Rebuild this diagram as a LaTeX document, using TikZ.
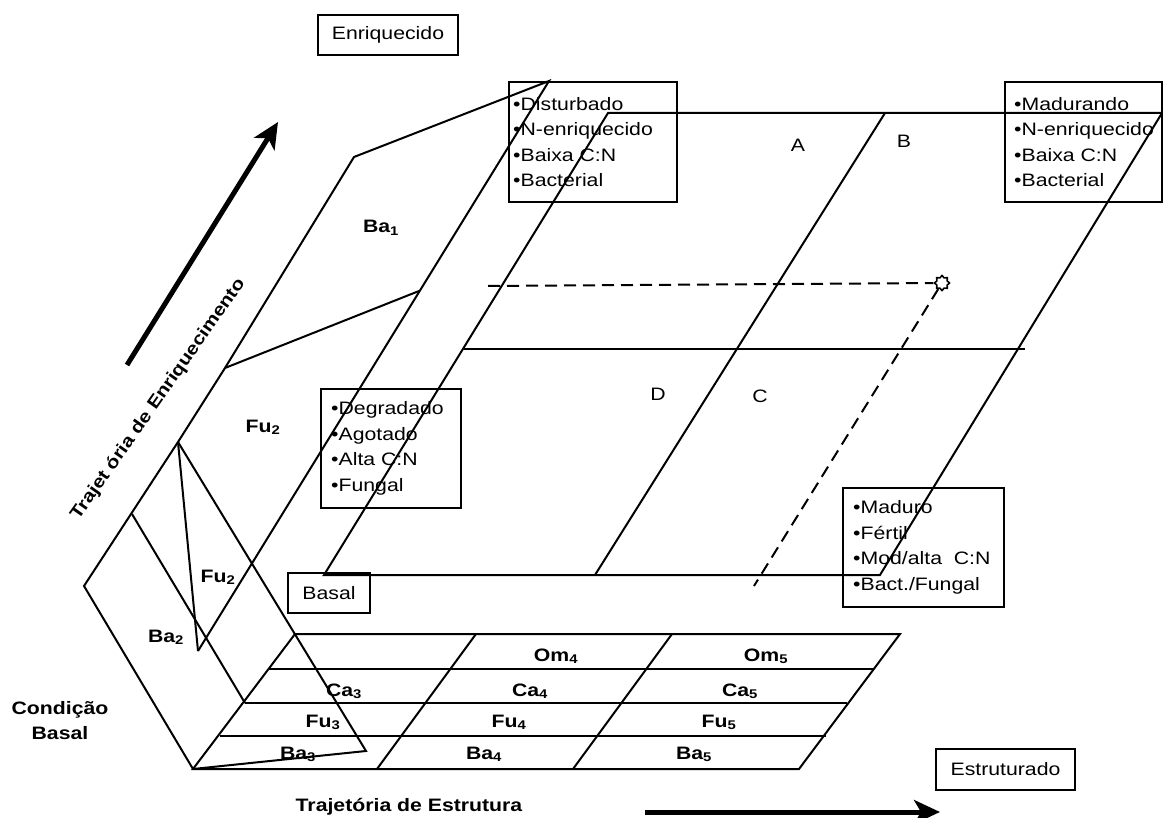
\documentclass[tikz,border=0pt]{standalone}
\usepackage{fontspec}
\setmainfont{Liberation Sans}[FakeStretch=1.18]
\usetikzlibrary{arrows.meta,shapes.geometric}
\begin{document}
\begin{tikzpicture}[x=1pt,y=-1pt,
  lnst/.style={line width=2pt, line join=miter},
  dshst/.style={line width=2pt, dash pattern=on 12pt off 7pt},
  boxfr/.style={draw, line width=2pt, inner sep=0pt},
  wordtxt/.style={font=\fontsize{18}{22}\selectfont},
  listtxt/.style={font=\fontsize{18}{25.5}\selectfont, align=left, inner sep=0pt, anchor=west},
  labtxt/.style={font=\bfseries\fontsize{18}{22}\selectfont, anchor=base, inner sep=0pt},
  lettxt/.style={font=\fontsize{18}{22}\selectfont, anchor=base, inner sep=0pt},
  bigarr/.style={line width=5pt, -{Stealth[length=26pt,width=24pt,inset=7pt]}},
]
\useasboundingbox (0,0) rectangle (1163,818);

% ---- coordinates of the left planes
\coordinate (p1) at (354,157);
\coordinate (p2) at (549,81);
\coordinate (p3) at (225,368);
\coordinate (p4) at (419,291);
\coordinate (apex) at (178,442);
\coordinate (p5) at (84,586);
\coordinate (p6) at (193,769);
\coordinate (p7) at (198,651);
\coordinate (p8) at (366,751);
\coordinate (p9) at (132,514);
\coordinate (p10) at (245,703);

% ---- main plane
\coordinate (m1) at (608,113);
\coordinate (m2) at (1162,113);
\coordinate (m3) at (880,575);
\coordinate (m4) at (324,575);
\coordinate (m5) at (885,113);
\coordinate (m6) at (595,575);
\coordinate (h1) at (464,349);
\coordinate (h2) at (1025,349);

% ---- grid
\coordinate (g1) at (295,634);
\coordinate (g2) at (900,634);
\coordinate (g3) at (799,769);
\coordinate (r1a) at (269,669);
\coordinate (r1b) at (873,669);
\coordinate (r2b) at (847,703);
\coordinate (r3a) at (220,736);
\coordinate (r3b) at (826,736);
\coordinate (d1a) at (476,634);
\coordinate (d1b) at (377,769);
\coordinate (d2a) at (672,634);
\coordinate (d2b) at (573,769);

% ---- left planes
\draw[lnst] (p7) -- (p2) -- (p1) -- (p3) -- (apex) -- (p5) -- (p6);
\draw[lnst] (p3) -- (p4);
\draw[lnst] (apex) -- (p7);
\draw[lnst] (apex) -- (p8) -- (p6);
\draw[lnst] (p9) -- (p10);

% ---- main plane
\draw[lnst] (m1) -- (m2) -- (m3) -- (m4) -- cycle;
\draw[lnst] (m5) -- (m6);
\draw[lnst] (h1) -- (h2);

% ---- grid
\draw[lnst] (g1) -- (g2) -- (g3) -- (p6) -- cycle;
\draw[lnst] (r1a) -- (r1b);
\draw[lnst] (p10) -- (r2b);
\draw[lnst] (r3a) -- (r3b);
\draw[lnst] (d1a) -- (d1b);
\draw[lnst] (d2a) -- (d2b);

% ---- star and dashed lines
\node[draw, star, star points=8, star point ratio=1.35, minimum size=15pt, inner sep=0pt, line width=1.6pt] (star) at (942,283) {};
\coordinate (dl) at (488,286);
\coordinate (db) at (754,586);
\draw[dshst] (dl) -- (star);
\draw[dshst] (star) -- (db);

% ---- arrows
\coordinate (ea0) at (127,365);
\coordinate (ea1) at (278,122);
\draw[bigarr] (ea0) -- (ea1);
\coordinate (sa0) at (645,812);
\coordinate (sa1) at (940,812);
\draw[bigarr] (sa0) -- (sa1);

% ---- word boxes
\node[boxfr, wordtxt, minimum width=140pt, minimum height=40pt] (enr) at (388,35) {Enriquecido};
\node[boxfr, wordtxt, minimum width=82pt, minimum height=40pt] (bas) at (329,593) {Basal};
\node[boxfr, wordtxt, minimum width=139pt, minimum height=41pt] (est) at (1005.5,769.5) {Estruturado};

% ---- list boxes
\node[boxfr, anchor=north west, minimum width=168pt, minimum height=120pt] (distb) at (508,81) {};
\node[listtxt] (distt) at ([xshift=5pt]distb.west) {•Disturbado\\•N-enriquecido\\•Baixa C:N\\•Bacterial};
\node[boxfr, anchor=north west, minimum width=157pt, minimum height=120pt] (madrb) at (1004,81) {};
\node[listtxt] (madrt) at ([xshift=10pt]madrb.west) {•Madurando\\•N-enriquecido\\•Baixa C:N\\•Bacterial};
\node[boxfr, anchor=north west, minimum width=140pt, minimum height=119pt] (degb) at (320,388) {};
\node[listtxt] (degt) at ([xshift=11pt]degb.west) {•Degradado\\•Agotado\\•Alta C:N\\•Fungal};
\node[boxfr, anchor=north west, minimum width=161pt, minimum height=119pt] (madub) at (842,487) {};
\node[listtxt] (madut) at ([xshift=11pt]madub.west) {•Maduro\\•Fértil\\•Mod/alta\ \ C:N\\•Bact./Fungal};

% ---- letters
\node[lettxt] (lA) at (798,152) {A};
\node[lettxt] (lB) at (904,148) {B};
\node[lettxt] (lD) at (658,401) {D};
\node[lettxt] (lC) at (760,403) {C};

% ---- bold labels
\node[labtxt] (ba1) at (381,233) {Ba\textsubscript{1}};
\node[labtxt] (fu2a) at (263,432) {Fu\textsubscript{2}};
\node[labtxt] (fu2b) at (218,582) {Fu\textsubscript{2}};
\node[labtxt] (ba2) at (166,642) {Ba\textsubscript{2}};
\node[labtxt] (om4) at (556,661) {Om\textsubscript{4}};
\node[labtxt] (om5) at (766,661) {Om\textsubscript{5}};
\node[labtxt] (ca3) at (344,696) {Ca\textsubscript{3}};
\node[labtxt] (ca4) at (530,696) {Ca\textsubscript{4}};
\node[labtxt] (ca5) at (740,696) {Ca\textsubscript{5}};
\node[labtxt] (fu3) at (323,727) {Fu\textsubscript{3}};
\node[labtxt] (fu4) at (509,727) {Fu\textsubscript{4}};
\node[labtxt] (fu5) at (719,727) {Fu\textsubscript{5}};
\node[labtxt] (ba3) at (298,759) {Ba\textsubscript{3}};
\node[labtxt] (ba4) at (484,759) {Ba\textsubscript{4}};
\node[labtxt] (ba5) at (694,759) {Ba\textsubscript{5}};

\node[font=\bfseries\fontsize{18}{25}\selectfont, align=center, inner sep=0pt] (cond) at (60,721) {Condição\\Basal};
\node[font=\bfseries\fontsize{18}{22}\selectfont, inner sep=0pt] (trest) at (409,807) {Trajetória de Estrutura};
\node[font=\bfseries\fontsize{17.5}{20}\selectfont, inner sep=0pt, anchor=base, rotate=55] (trenr) at (162,402) {Trajet ória de Enriquecimento};
\end{tikzpicture}
\end{document}
